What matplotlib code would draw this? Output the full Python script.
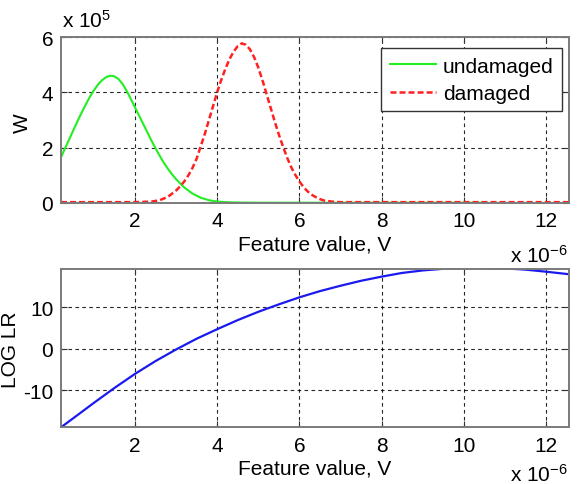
import matplotlib
matplotlib.use("Agg")
import matplotlib.pyplot as plt

plt.rcParams['font.family'] = ['Liberation Sans', 'DejaVu Sans']
plt.rcParams['mathtext.fontset'] = 'custom'
plt.rcParams['mathtext.rm'] = 'Liberation Sans'
plt.rcParams['mathtext.it'] = 'Liberation Sans'
plt.rcParams['lines.scale_dashes'] = False
plt.rcParams['axes.unicode_minus'] = False

# ---- data (feature value in units of 1e-6 V, W in units of 1e5) ----
und_x = [0.2, 0.3, 0.4, 0.5, 0.6, 0.7, 0.8, 0.9, 1.0, 1.1, 1.2, 1.3, 1.4, 1.5, 1.6,
         1.7, 1.8, 1.9, 2.0, 2.1, 2.2, 2.3, 2.4, 2.5, 2.6, 2.7, 2.8, 2.9, 3.0,
         3.2, 3.4, 3.6, 3.8, 4.0, 4.3, 4.6, 5.0, 6.0, 7.0, 8.0, 9.0, 10.0, 10.5]
und_w = [1.65, 1.98, 2.3, 2.63, 2.95, 3.26, 3.55, 3.83, 4.07, 4.28, 4.44, 4.55, 4.6, 4.58, 4.48,
         4.3, 4.05, 3.76, 3.46, 3.16, 2.86, 2.56, 2.26, 1.98, 1.71, 1.46, 1.24, 1.04, 0.86,
         0.56, 0.34, 0.19, 0.1, 0.05, 0.025, 0.015, 0.01, 0.01, 0.01, 0.01, 0.01, 0.01, 0.01]

dam_x = [0.2, 1.0, 2.0, 2.4, 2.6, 2.8, 3.0, 3.1, 3.2, 3.3, 3.4, 3.5, 3.6, 3.7, 3.8, 3.9,
         4.0, 4.1, 4.2, 4.3, 4.4, 4.5, 4.6, 4.7, 4.8, 4.9, 5.0, 5.1, 5.2, 5.3, 5.4,
         5.5, 5.6, 5.7, 5.8, 5.9, 6.0, 6.1, 6.2, 6.3, 6.4, 6.5, 6.6, 6.8, 7.0,
         8.0, 9.0, 10.0, 11.0, 12.0, 12.55]
dam_w = [0.03, 0.03, 0.03, 0.05, 0.1, 0.22, 0.45, 0.6, 0.78, 1.0, 1.27, 1.6, 2.05, 2.5, 3.0, 3.5,
         4.0, 4.45, 4.85, 5.2, 5.47, 5.67, 5.77, 5.72, 5.55, 5.27, 4.9, 4.45, 3.95, 3.45, 2.95,
         2.48, 2.05, 1.65, 1.3, 1.02, 0.78, 0.58, 0.42, 0.3, 0.21, 0.14, 0.09, 0.05, 0.03,
         0.03, 0.03, 0.03, 0.03, 0.03, 0.03]

lr_x = [0.2, 0.5, 1.0, 1.5, 2.0, 2.5, 3.0, 3.5, 4.0, 4.5, 5.0, 5.5, 6.0, 6.5, 7.0,
        7.5, 8.0, 8.5, 9.0, 9.5, 10.0, 10.5, 11.0, 11.5, 12.0, 12.55]
lr_y = [-19.0, -16.8, -13.1, -9.5, -6.1, -3.0, -0.2, 2.4, 4.7, 6.9, 8.9, 10.7, 12.4, 13.9, 15.2,
        16.4, 17.4, 18.3, 18.9, 19.3, 19.5, 19.5, 19.4, 19.1, 18.6, 18.0]

labels = ['undamaged', 'damaged']
x_ticks = [2, 4, 6, 8, 10, 12]
w_ticks = [0, 2, 4, 6]
lr_ticks = [-10, 0, 10]

FS = 15
spine_c = '#7a7a7a'

fig = plt.figure(figsize=(5.77, 4.85), dpi=100)
ax1 = fig.add_axes([0.1057, 0.5794, 0.8796, 0.3422])
ax2 = fig.add_axes([0.1057, 0.1165, 0.8796, 0.3268])

grid_kw = dict(color='black', linestyle=(0, (2.6, 2.4)), linewidth=0.8, alpha=0.85)

for ax in (ax1, ax2):
    ax.set_xlim(0.2, 12.55)
    ax.set_xticks(x_ticks)
    ax.grid(True, **grid_kw)
    ax.tick_params(direction='in', length=4, width=0.8, color='#333333',
                   top=True, right=True, labelsize=FS, pad=6)
    ax.tick_params(axis='y', pad=5.5)
    for s in ax.spines.values():
        s.set_color(spine_c)
        s.set_linewidth(1.4)
    ax.set_xlabel('Feature value, V', fontsize=FS, labelpad=3)

ax1.plot(und_x, und_w, color='#22ee22', lw=1.5, label=labels[0])
ax1.plot(dam_x, dam_w, color='#ff2020', lw=1.8, linestyle=(0, (4.3, 2.2)), label=labels[1])
ax1.set_ylim(0, 6)
ax1.set_yticks(w_ticks)
ax1.set_ylabel('W', fontsize=FS)
ax1.yaxis.set_label_coords(-0.057, 0.49)
leg = ax1.legend(loc='upper right', bbox_to_anchor=(0.987, 0.932), borderaxespad=0,
                 fontsize=FS, fancybox=False, framealpha=1, edgecolor='#333333',
                 borderpad=0.4, handlelength=2.2, handletextpad=0.35, labelspacing=0.4)
leg.get_frame().set_linewidth(1.0)

ax2.plot(lr_x, lr_y, color='#1a1aee', lw=1.6)
ax2.set_ylim(-19.05, 19.25)
ax2.set_yticks(lr_ticks)
ax2.set_ylabel('LOG LR', fontsize=FS)
ax2.yaxis.set_label_coords(-0.080, 0.495)

# multipliers
fig.text(0.108, 0.935, r'x 10$^{5}$', fontsize=FS, ha='left', va='bottom')
fig.text(0.984, 1 - 263/485, r'x 10$^{-6}$', fontsize=FS, ha='right', va='baseline')
fig.text(0.984, 1 - 482/485, r'x 10$^{-6}$', fontsize=FS, ha='right', va='baseline')

fig.savefig('out.png', dpi=100)
